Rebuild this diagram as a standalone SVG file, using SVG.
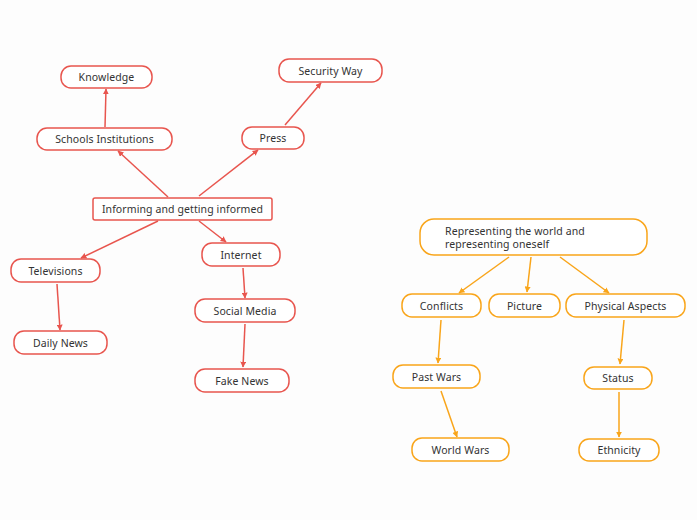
<svg xmlns="http://www.w3.org/2000/svg" width="697" height="520" viewBox="0 0 697 520">
<style>
.r rect{fill:#fff;stroke:#e8554e;stroke-width:1.5}
.o rect{fill:#fff;stroke:#f9a51a;stroke-width:1.5}
text{font-family:"Noto Sans","Liberation Sans",sans-serif;font-size:10.5px;letter-spacing:0.1px;fill:#333;text-anchor:middle;dominant-baseline:central}
.cr line{stroke:#e8554e;stroke-width:1.5;marker-end:url(#ar)}
.co line{stroke:#f9a51a;stroke-width:1.5;marker-end:url(#ao)}
</style>
<defs>
<marker id="ar" viewBox="0 0 10 10" refX="9" refY="5" markerWidth="6" markerHeight="6" orient="auto" markerUnits="userSpaceOnUse"><path d="M0,0L10,5L0,10z" fill="#e8554e"/></marker>
<marker id="ao" viewBox="0 0 10 10" refX="9" refY="5" markerWidth="6" markerHeight="6" orient="auto" markerUnits="userSpaceOnUse"><path d="M0,0L10,5L0,10z" fill="#f9a51a"/></marker>
</defs>
<rect width="697" height="520" fill="#fdfdfd"/>
<g id="connectors">
<g class="cr">
<line x1="168" y1="197" x2="118" y2="151"/>
<line x1="199" y1="196" x2="258" y2="150"/>
<line x1="105" y1="127" x2="106" y2="89"/>
<line x1="285" y1="125" x2="321" y2="83"/>
<line x1="158" y1="221" x2="81" y2="258"/>
<line x1="199" y1="221" x2="226" y2="242"/>
<line x1="57" y1="284" x2="60" y2="330"/>
<line x1="243" y1="268" x2="245" y2="298"/>
<line x1="245" y1="324" x2="243" y2="367"/>
</g>
<g class="co">
<line x1="509" y1="257" x2="459" y2="293"/>
<line x1="531" y1="257" x2="527" y2="292"/>
<line x1="560" y1="257" x2="609" y2="293"/>
<line x1="441" y1="320" x2="438" y2="363"/>
<line x1="624" y1="320" x2="620" y2="364"/>
<line x1="441" y1="391" x2="457" y2="437"/>
<line x1="619" y1="392" x2="619" y2="437"/>
</g>
</g>
<g id="n-informing" class="r"><rect x="93" y="198" width="179" height="22" rx="2"/><text x="182.5" y="209">Informing and getting informed</text></g>
<g id="n-schools" class="r"><rect x="37" y="128" width="135" height="22" rx="10"/><text x="104.5" y="139">Schools Institutions</text></g>
<g id="n-knowledge" class="r"><rect x="61" y="66" width="91" height="22" rx="10"/><text x="106.5" y="77">Knowledge</text></g>
<g id="n-press" class="r"><rect x="242" y="127" width="62" height="22" rx="10"/><text x="273" y="138">Press</text></g>
<g id="n-security" class="r"><rect x="279" y="59" width="103" height="23" rx="10"/><text x="330.5" y="70.5">Security Way</text></g>
<g id="n-televisions" class="r"><rect x="11" y="259" width="89" height="23" rx="10"/><text x="55.5" y="270.5">Televisions</text></g>
<g id="n-daily" class="r"><rect x="14" y="331" width="93" height="23" rx="10"/><text x="60.5" y="342.5">Daily News</text></g>
<g id="n-internet" class="r"><rect x="202" y="243" width="78" height="23" rx="10"/><text x="241" y="254.5">Internet</text></g>
<g id="n-social" class="r"><rect x="195" y="299" width="100" height="23" rx="10"/><text x="245" y="310.5">Social Media</text></g>
<g id="n-fake" class="r"><rect x="195" y="369" width="94" height="23" rx="10"/><text x="242" y="380.5">Fake News</text></g>
<g id="n-representing" class="o"><rect x="420" y="219" width="227" height="36" rx="14"/><text x="445" y="230.5" style="text-anchor:start">Representing the world and</text><text x="445" y="244" style="text-anchor:start">representing oneself</text></g>
<g id="n-conflicts" class="o"><rect x="402" y="294" width="79" height="23" rx="10"/><text x="441.5" y="305.5">Conflicts</text></g>
<g id="n-picture" class="o"><rect x="489" y="294" width="71" height="23" rx="10"/><text x="524.5" y="305.5">Picture</text></g>
<g id="n-physical" class="o"><rect x="566" y="294" width="119" height="23" rx="10"/><text x="625.5" y="305.5">Physical Aspects</text></g>
<g id="n-pastwars" class="o"><rect x="393" y="365" width="87" height="23" rx="10"/><text x="436.5" y="376.5">Past Wars</text></g>
<g id="n-worldwars" class="o"><rect x="412" y="438" width="97" height="23" rx="10"/><text x="460.5" y="449.5">World Wars</text></g>
<g id="n-status" class="o"><rect x="584" y="367" width="68" height="22" rx="10"/><text x="618" y="378">Status</text></g>
<g id="n-ethnicity" class="o"><rect x="579" y="439" width="80" height="22" rx="10"/><text x="619" y="450">Ethnicity</text></g>
</svg>
